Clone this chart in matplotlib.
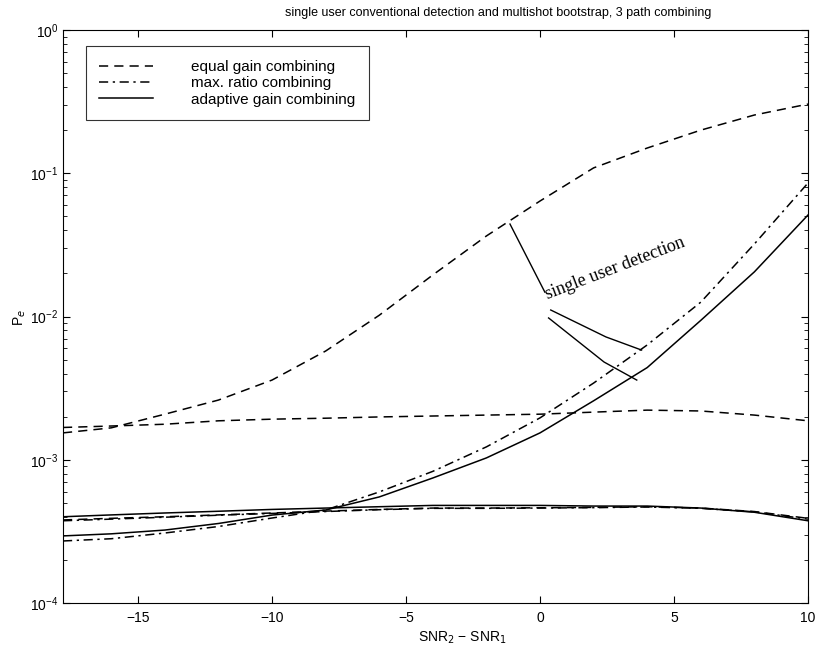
import numpy as np
import matplotlib
matplotlib.use('Agg')
import matplotlib.pyplot as plt

# SNR2 - SNR1 grid
snr_diff = [-17.8, -16, -14, -12, -10, -8, -6, -4, -2, 0, 2, 4, 6, 8, 10]

# single user detection curves (rising)
egc_single = [1.54e-3, 1.67e-3, 2.08e-3, 2.61e-3, 3.60e-3, 5.74e-3, 1.02e-2, 1.95e-2,
              3.65e-2, 6.40e-2, 0.109, 0.150, 0.200, 0.255, 0.304]
mrc_single = [2.71e-4, 2.81e-4, 3.08e-4, 3.42e-4, 3.92e-4, 4.46e-4, 5.96e-4, 8.3e-4,
              1.23e-3, 1.96e-3, 3.43e-3, 6.33e-3, 1.26e-2, 3.21e-2, 8.55e-2]
agc_single = [2.94e-4, 3.04e-4, 3.23e-4, 3.59e-4, 4.11e-4, 4.46e-4, 5.5e-4, 7.46e-4,
              1.03e-3, 1.54e-3, 2.58e-3, 4.4e-3, 9.4e-3, 2.05e-2, 5.11e-2]

# flat curves
egc_flat_hi = [1.68e-3, 1.72e-3, 1.77e-3, 1.87e-3, 1.92e-3, 1.95e-3, 1.99e-3, 2.02e-3,
               2.05e-3, 2.08e-3, 2.15e-3, 2.22e-3, 2.19e-3, 2.05e-3, 1.87e-3]
agc_flat = [4.0e-4, 4.12e-4, 4.25e-4, 4.37e-4, 4.5e-4, 4.6e-4, 4.7e-4, 4.8e-4,
            4.8e-4, 4.8e-4, 4.75e-4, 4.75e-4, 4.6e-4, 4.3e-4, 3.75e-4]
egc_flat = [3.8e-4, 3.9e-4, 4.0e-4, 4.12e-4, 4.25e-4, 4.38e-4, 4.5e-4, 4.6e-4,
            4.6e-4, 4.62e-4, 4.65e-4, 4.7e-4, 4.6e-4, 4.35e-4, 3.9e-4]
mrc_flat = [3.75e-4, 3.85e-4, 3.97e-4, 4.1e-4, 4.22e-4, 4.35e-4, 4.48e-4, 4.58e-4,
            4.58e-4, 4.6e-4, 4.63e-4, 4.68e-4, 4.58e-4, 4.33e-4, 3.85e-4]

# pointer lines for the "single user detection" label
ptr1_x = [-1.12, 0.18]
ptr1_y = [4.42e-2, 1.48e-2]
ptr2_x = [0.40, 2.46, 3.79]
ptr2_y = [1.11e-2, 7.2e-3, 5.83e-3]
ptr3_x = [0.32, 2.39, 3.61]
ptr3_y = [9.77e-3, 4.81e-3, 3.6e-3]

plt.rcParams['font.family'] = ['Liberation Sans', 'DejaVu Sans']

fig = plt.figure(figsize=(8.19, 6.53), dpi=100)
ax = fig.add_axes([63 / 819, 50 / 653, 745 / 819, 573 / 653])

dash = (0, (6, 4))
dashdot = (0, (6, 3, 1.5, 3))
lw = 1.1

ax.plot(snr_diff, egc_single, color='black', linestyle=dash, lw=lw, label='equal gain combining')
ax.plot(snr_diff, mrc_single, color='black', linestyle=dashdot, lw=lw, label='max. ratio combining')
ax.plot(snr_diff, agc_single, color='black', linestyle='-', lw=lw, label='adaptive gain combining')
ax.plot(snr_diff, egc_flat_hi, color='black', linestyle=dash, lw=lw)
ax.plot(snr_diff, agc_flat, color='black', linestyle='-', lw=lw)
ax.plot(snr_diff, egc_flat, color='black', linestyle=dash, lw=lw)
ax.plot(snr_diff, mrc_flat, color='black', linestyle=dashdot, lw=lw)

for px, py in [(ptr1_x, ptr1_y), (ptr2_x, ptr2_y), (ptr3_x, ptr3_y)]:
    ax.plot(px, py, color='black', lw=1.0)

ax.text(0.35, 1.25e-2, 'single user detection', family='Liberation Serif', fontsize=13,
        rotation=21, rotation_mode='anchor', ha='left', va='bottom')

ax.set_yscale('log')
ax.set_xlim(-17.8, 10)
ax.set_ylim(1e-4, 1)
ax.set_xticks([-15, -10, -5, 0, 5, 10])
ax.set_xticklabels(['\u221215', '\u221210', '\u22125', '0', '5', '10'])
ax.tick_params(which='both', direction='in', top=True, right=True, labelsize=10)
ax.tick_params(which='major', length=5)
ax.tick_params(which='minor', length=3)
ax.tick_params(axis='x', pad=6)

leg = ax.legend(loc='upper left', bbox_to_anchor=(0.02, 0.985), fontsize=11,
                frameon=True, fancybox=False, edgecolor='black', handlelength=3.5,
                handletextpad=2.5, labelspacing=0.15, borderpad=0.9)
leg.get_frame().set_linewidth(0.8)

fig.text(498 / 819, 1 - 13 / 653, 'single user conventional detection and multishot bootstrap, 3 path combining',
         ha='center', va='center', fontsize=9)
fig.text(462 / 819, 1 - 638 / 653, 'SNR$_2$ \u2212 SNR$_1$', ha='center', va='center', fontsize=10)
fig.text(20 / 819, 1 - 318 / 653, 'P$_e$', ha='center', va='center', fontsize=10, rotation=90)

fig.savefig('out.png', dpi=100)
